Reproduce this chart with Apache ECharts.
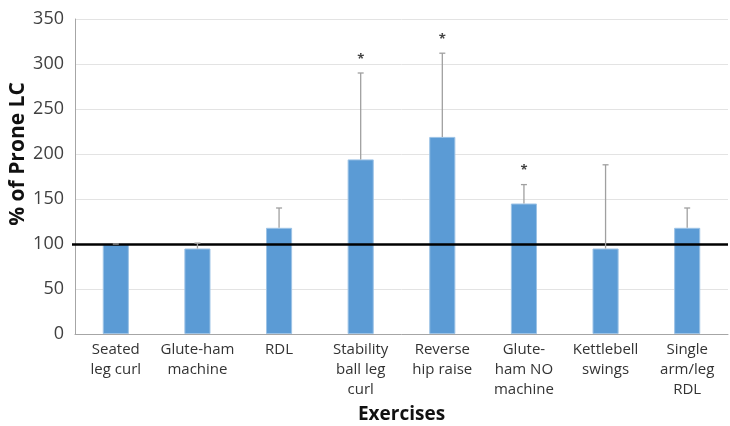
<!DOCTYPE html>
<html><head><meta charset="utf-8">
<script src="https://cdn.jsdelivr.net/npm/echarts@6/dist/echarts.min.js"></script>
<style>html,body{margin:0;padding:0;background:#fff}#c{width:730px;height:426px}</style>
</head><body><div id="c"></div>
<script>
const categories = ['Seated\nleg curl','Glute-ham\nmachine','RDL','Stability\nball leg\ncurl','Reverse\nhip raise','Glute-\nham NO\nmachine','Kettlebell\nswings','Single\narm/leg\nRDL'];
const means = [100, 95, 118, 194, 219, 145, 95, 118];
const errTop = [100, 101, 140, 290, 312, 166, 188, 140];
const significant = [false, false, false, true, true, true, false, false];
const yTicks = [0, 50, 100, 150, 200, 250, 300, 350];
const FONT = '"Open Sans"';
const chart = echarts.init(document.getElementById('c'));
chart.setOption({
  animation: false,
  grid: {left: 75, right: 2, top: 19, bottom: 92, containLabel: false, outerBoundsMode: 'none'},
  graphic: [{
    type: 'text', x: 8, y: 154, rotation: Math.PI / 2,
    style: {text: '% of Prone LC', align: 'center', verticalAlign: 'top', fill: '#111', font: 'bold 21px ' + FONT}
  }],
  xAxis: {
    type: 'category', data: categories,
    axisLine: {lineStyle: {color: '#a6a6a6'}},
    axisTick: {show: false},
    axisLabel: {interval: 0, color: '#333', fontFamily: FONT, fontSize: 15, lineHeight: 20, margin: 6},
    name: 'Exercises', nameLocation: 'middle', nameGap: 71,
    nameTextStyle: {fontFamily: FONT, fontWeight: 'bold', fontSize: 19, color: '#111'}
  },
  yAxis: {
    type: 'value', min: yTicks[0], max: yTicks[yTicks.length-1], interval: 50,
    axisLine: {show: true, lineStyle: {color: '#a6a6a6'}},
    axisTick: {show: false},
    splitLine: {lineStyle: {color: '#e3e3e3'}},
    axisLabel: {color: '#404040', fontFamily: FONT, fontSize: 18, margin: 11}
  },
  series: [
    {
      type: 'bar', data: means, barWidth: '32%',
      itemStyle: {color: '#5b9bd5', borderColor: '#9dc3e6', borderWidth: 1},
      markLine: {
        silent: true, symbol: 'none', label: {show: false},
        lineStyle: {color: '#000', width: 2.5, type: 'solid'},
        data: [[{coord: [-0.05, 100], x: 72}, {coord: [7.5, 100], x: 728}]]
      }
    },
    {
      type: 'custom', z: 5,
      data: means.map((m, i) => [i, m, errTop[i], significant[i] ? 1 : 0]),
      renderItem: function (params, api) {
        const i = api.value(0);
        const p0 = api.coord([i, api.value(1)]);
        const p1 = api.coord([i, api.value(2)]);
        const children = [
          {type: 'line', shape: {x1: p0[0], y1: p0[1], x2: p1[0], y2: p1[1]}, style: {stroke: '#a0a0a0', lineWidth: 1.3}},
          {type: 'line', shape: {x1: p1[0]-3, y1: p1[1], x2: p1[0]+3, y2: p1[1]}, style: {stroke: '#a0a0a0', lineWidth: 1.3}}
        ];
        if (api.value(3)) {
          children.push({type: 'text', style: {text: '*', x: p1[0], y: p1[1]-14, align: 'center', verticalAlign: 'middle', fill: '#444', font: 'bold 13px ' + FONT}});
        }
        return {type: 'group', children: children};
      }
    }
  ]
});
</script></body></html>
